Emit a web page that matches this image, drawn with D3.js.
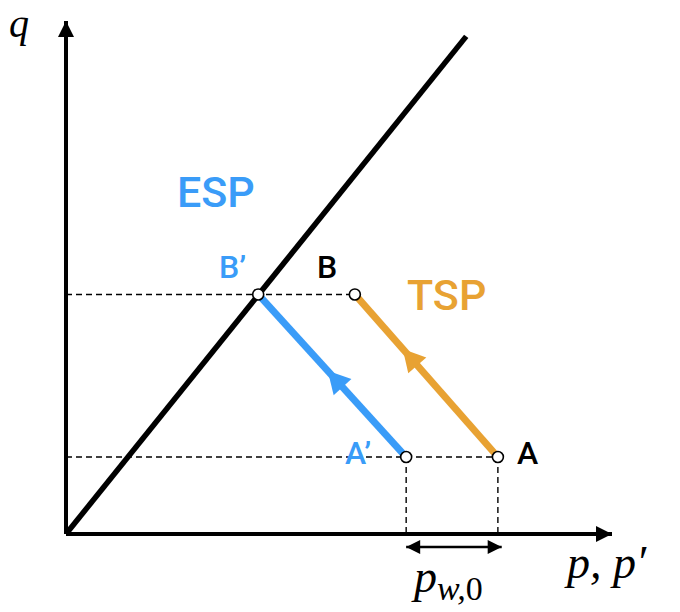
<!DOCTYPE html>
<html lang="en">
<head>
<meta charset="UTF-8">
<title>ESP vs TSP</title>
<script src="https://d3js.org/d3.v7.min.js"></script>
<style>
  body { margin: 0; background: #fff; }
</style>
</head>
<body>
<script>
// data units: p on x, q on y
var diagonal = [[0, 0], [73.3, 97.0]];
var tspPath = [[79.1, 15.0], [52.9, 46.7]];   // A -> B
var espPath = [[62.3, 15.0], [35.2, 46.7]];   // A' -> B'
var pointNames = ["A", "B", "A\u2019", "B\u2019"];
var points = [[79.1, 15.0], [52.9, 46.7], [62.3, 15.0], [35.2, 46.7]];
var pw0 = [62.3, 79.1];

var width = 680, height = 612;
var x = d3.scaleLinear().domain([0, 100]).range([66, 612]);
var y = d3.scaleLinear().domain([0, 100]).range([534, 21]);

var blue = "#3a9cf8", orange = "#e8a233";

var svg = d3.select("body").append("svg")
    .attr("width", width)
    .attr("height", height);

var defs = svg.append("defs");
function marker(id, color, w, h) {
    defs.append("marker")
        .attr("id", id)
        .attr("viewBox", "0 0 10 10")
        .attr("refX", 10).attr("refY", 5)
        .attr("markerUnits", "userSpaceOnUse")
        .attr("markerWidth", w).attr("markerHeight", h)
        .attr("orient", "auto-start-reverse")
        .append("path")
        .attr("d", "M0,0 L10,5 L0,10 Z")
        .attr("fill", color);
}
marker("axisHead", "#000", 20, 16);
marker("smallHead", "#000", 16, 14);

var line = d3.line().x(function(d) { return x(d[0]); }).y(function(d) { return y(d[1]); });

// dashed guides
var dash = svg.append("g").attr("stroke", "#000").attr("stroke-width", 1.4)
    .attr("stroke-dasharray", "6,4").attr("fill", "none");
dash.append("path").attr("d", line([[0, points[1][1]], points[1]]));
dash.append("path").attr("d", line([[0, points[0][1]], points[0]]));
dash.append("path").attr("d", line([points[0], [points[0][0], 0]]));
dash.append("path").attr("d", line([points[2], [points[2][0], 0]]));

// axes
svg.append("path").attr("d", line([[0, 0], [100, 0]]))
    .attr("stroke", "#000").attr("stroke-width", 4).attr("fill", "none")
    .attr("marker-end", "url(#axisHead)");
svg.append("path").attr("d", line([[0, 0], [0, 100]]))
    .attr("stroke", "#000").attr("stroke-width", 4).attr("fill", "none")
    .attr("marker-end", "url(#axisHead)");

// the diagonal
svg.append("path").attr("d", line(diagonal))
    .attr("stroke", "#000").attr("stroke-width", 5.5).attr("fill", "none");

// paths with mid arrows
function arrowPath(pts, color, t) {
    svg.append("path").attr("d", line(pts))
        .attr("stroke", color).attr("stroke-width", 7).attr("fill", "none");
    var x0 = x(pts[0][0]), y0 = y(pts[0][1]), x1 = x(pts[1][0]), y1 = y(pts[1][1]);
    var dx = x1 - x0, dy = y1 - y0, len = Math.sqrt(dx * dx + dy * dy);
    var ux = dx / len, uy = dy / len;
    var tx = x0 + dx * t, ty = y0 + dy * t;
    var L = 22, W = 12;
    var bx = tx - ux * L, by = ty - uy * L;
    svg.append("path")
        .attr("d", "M" + tx + "," + ty +
            " L" + (bx - uy * W) + "," + (by + ux * W) +
            " L" + (bx + uy * W) + "," + (by - ux * W) + " Z")
        .attr("fill", color);
}
arrowPath(espPath, blue, 0.53);
arrowPath(tspPath, orange, 0.665);

// points
svg.selectAll("circle.pt").data(points).enter().append("circle")
    .attr("class", "pt")
    .attr("cx", function(d) { return x(d[0]); })
    .attr("cy", function(d) { return y(d[1]); })
    .attr("r", 5.5)
    .attr("fill", "#fff").attr("stroke", "#000").attr("stroke-width", 1.6);

// double arrow for p_w,0
svg.append("path").attr("d", "M" + x(pw0[0]) + "," + 547 + " L" + x(pw0[1] + 0.7) + "," + 547)
    .attr("stroke", "#000").attr("stroke-width", 2.5).attr("fill", "none")
    .attr("marker-start", "url(#smallHead)").attr("marker-end", "url(#smallHead)");

// labels
var sans = "Roboto, 'Liberation Sans', Arial, sans-serif";
var serif = "'Liberation Serif', serif";
function label(txt, px, py, size, color, font, anchor, style) {
    return svg.append("text").attr("x", px).attr("y", py)
        .attr("font-family", font).attr("font-size", size)
        .attr("font-weight", font === sans ? 500 : 400)
        .attr("fill", color).attr("text-anchor", anchor || "start")
        .attr("font-style", style || "normal")
        .text(txt);
}
label("ESP", 177, 207, 43, blue, sans);
label("TSP", 407, 310, 43, orange, sans);
label(pointNames[3], 219, 278, 32, blue, sans);
label(pointNames[1], 317, 278, 32, "#000", sans);
label(pointNames[2], 345, 464, 32, blue, sans);
label(pointNames[0], 517, 464, 32, "#000", sans);

label("q", 9, 37, 40, "#000", serif, "start", "italic");
label("p, p\u2032", 567, 578, 46, "#000", serif, "start", "italic");
var pw = svg.append("text").attr("x", 414).attr("y", 592)
    .attr("font-family", serif).attr("font-size", 46)
    .attr("font-style", "italic").attr("fill", "#000");
pw.append("tspan").text("p");
pw.append("tspan").attr("font-size", 34).attr("dy", 8).text("w,");
pw.append("tspan").attr("font-size", 34).attr("font-style", "normal").text("0");
</script>
</body>
</html>
